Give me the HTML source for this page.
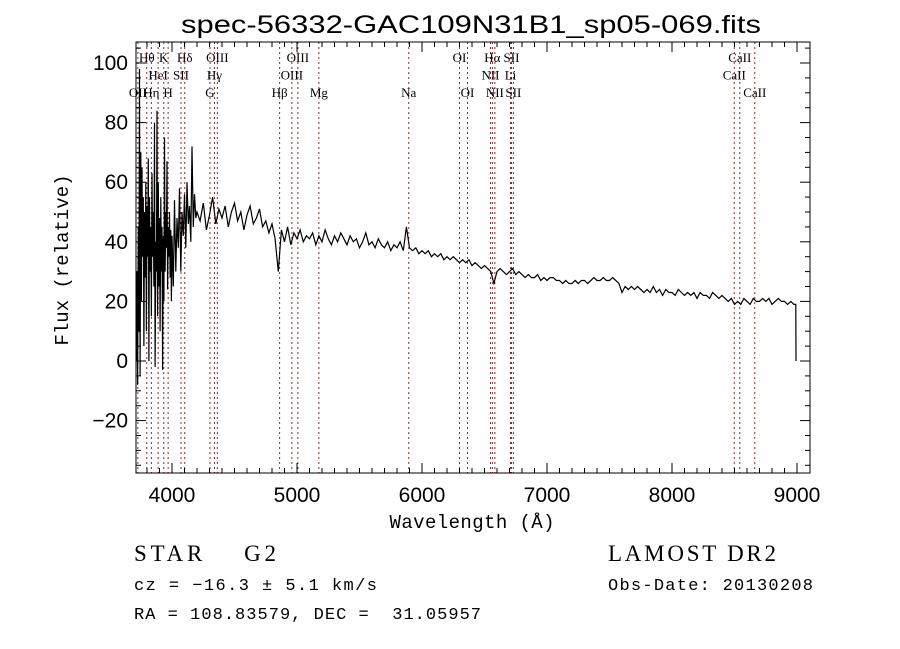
<!DOCTYPE html>
<html><head><meta charset="utf-8"><style>
body{margin:0;background:#fff;}
svg{display:block;font-family:"Liberation Sans",sans-serif;}
.ser{font-family:"Liberation Serif",serif;}
</style></head><body>
<svg id="chart" width="900" height="649" viewBox="0 0 900 649" xmlns="http://www.w3.org/2000/svg">
<rect width="900" height="649" fill="#fff"/>
<text x="471" y="33" font-size="25" text-anchor="middle" textLength="580" lengthAdjust="spacingAndGlyphs">spec-56332-GAC109N31B1_sp05-069.fits</text>
<g id="lines"></g>
<g id="labels" class="ser" font-size="13"></g>
<polyline id="spec" fill="none" stroke="#000" stroke-width="1.2"/>
<rect x="136" y="42" width="674" height="431" fill="none" stroke="#000" stroke-width="1"/>
<g id="ticks" stroke="#000"></g>
<g id="tlabels" font-size="21"></g>
<text x="472" y="528" font-size="19" text-anchor="middle" font-family="Liberation Mono,monospace" textLength="165">Wavelength (Å)</text>
<text transform="translate(68,260) rotate(-90)" font-size="19" text-anchor="middle" font-family="Liberation Mono,monospace">Flux (relative)</text>
<text x="134" y="561" font-size="23" class="ser" xml:space="preserve" textLength="142">STAR    G2</text>
<text x="134" y="590" font-size="17" font-family="Liberation Mono,monospace" textLength="243">cz = −16.3 ± 5.1 km/s</text>
<text x="134" y="619" font-size="17" font-family="Liberation Mono,monospace" xml:space="preserve" textLength="347">RA = 108.83579, DEC =  31.05957</text>
<text x="608" y="561" font-size="23" class="ser" textLength="168">LAMOST DR2</text>
<text x="608" y="590" font-size="17" font-family="Liberation Mono,monospace" textLength="205">Obs-Date: 20130208</text>
</svg>
<script>
const blueWave=[3715,3720,3725,3730,3735,3740,3745,3750,3755,3760,3765,3770,3775,3780,3785,3790,3795,3800,3805,3810,3815,3820,3825,3830,3835,3840,3845,3850,3855,3860,3865,3870,3875,3880,3885,3890,3895,3900,3905,3910,3915,3920,3925,3930,3935,3940,3945,3950,3955,3960,3965,3970,3975,3980,3985,3990,3995,4000,4010,4020,4030,4040,4050,4060,4070,4080,4090,4100,4110,4120,4130,4140,4150,4160,4170,4180,4190];
const blueFlux=[0,30,-8,45,10,98,-5,70,20,65,35,55,5,50,28,60,10,52,35,68,0,55,30,45,15,63,35,50,25,80,-2,40,30,84,15,60,25,48,10,55,30,45,-3,42,20,75,30,50,38,67,24,45,35,50,28,44,20,42,25,54,30,48,38,58,30,50,42,56,38,60,46,52,40,72,45,56,48];
const redStart=4200, redStep=25;
const redFlux=[50,47,53,44,49,55,46,51,48,52,45,50,
53,47,50,44,49,52,46,48,51,45,47,43,
46,41,30,44,40,45,39,43,41,44,40,42,
41,43,39,42,40,44,41,39,42,40,43,41,
39,42,40,41,38,40,43,39,40,38,41,39,
38,40,37,39,38,40,37,45,38,37,38,36,
37,36,37,35,36,35,36,34,35,34,35,34,
33,34,33,34,32,33,32,31,32,31,30,26,
30,31,30,29,30,31,29,30,29,28,29,28,
28,29,27,28,27,28,28,27,27,26,27,26,
26,27,26,27,27,26,27,28,27,27,28,27,
27,28,27,26,23,25,24,25,24,25,24,23,
24,23,25,23,24,22,24,23,23,22,24,23,
22,23,22,23,21,23,22,22,21,23,22,21,
22,21,20,21,19,20,19,21,20,19,21,20,
20,21,20,21,19,20,21,20,20,19,20,19];
const endWave=[8990,8992], endFlux=[19,0];
const lineWaves=[3727,3798,3835,3889,3934,3969,4072,4102,4304,4340,4363,4861,4959,5007,5175,5894,6300,6364,6548,6563,6583,6708,6716,6731,8498,8542,8662];
const labelText=["OII","Hθ","Hη","HeI","K","H","SII","Hδ","G","Hγ","OIII","Hβ","OIII","OIII","Mg","Na","OI","OI","NII","Hα","NII","Li","SII","SII","CaII","CaII","CaII"];
const labelRow=[2,0,2,1,0,2,1,0,2,1,0,2,1,0,2,2,0,2,1,0,2,1,0,2,1,0,2];
const xTicks=[4000,5000,6000,7000,8000,9000];
const yTicks=[-20,0,20,40,60,80,100];
const X=w=>172+(w-4000)*0.125;
const Y=f=>361-f*2.98;
const NS="http://www.w3.org/2000/svg";
function mk(t,a,p){const e=document.createElementNS(NS,t);for(const k in a)e.setAttribute(k,a[k]);p.appendChild(e);return e;}
const L=document.getElementById('lines'),LB=document.getElementById('labels');
lineWaves.forEach((w,i)=>{
 const ln=mk('line',{x1:X(w),x2:X(w),y1:42,y2:473,stroke:'#8b2a2a','stroke-width':1,'stroke-dasharray':'2,3'},L);
 
 
 const t=mk('text',{x:X(w),y:62+labelRow[i]*17.5,'text-anchor':'middle'},LB);
 t.textContent=labelText[i];
 
 
});
const pts=[];
blueWave.forEach((w,i)=>pts.push([w,blueFlux[i]]));
redFlux.forEach((f,i)=>pts.push([redStart+i*redStep,f]));
endWave.forEach((w,i)=>pts.push([w,endFlux[i]]));
document.getElementById('spec').setAttribute('points',pts.map(p=>X(p[0]).toFixed(1)+','+Math.min(473,Math.max(42,Y(p[1]))).toFixed(1)).join(' '));
const T=document.getElementById('ticks'),TL=document.getElementById('tlabels');
for(let w=3800;w<=9000;w+=100){const maj=w%1000===0;const h=maj?10:5;
 mk('line',{x1:X(w),x2:X(w),y1:473,y2:473-h},T);mk('line',{x1:X(w),x2:X(w),y1:42,y2:42+h},T);}
for(let f=-35;f<=105;f+=5){const maj=f%20===0;const h=maj?10:5;
 mk('line',{x1:136,x2:136+h,y1:Y(f),y2:Y(f)},T);mk('line',{x1:810,x2:810-h,y1:Y(f),y2:Y(f)},T);}
xTicks.forEach(v=>{const t=mk('text',{x:X(v),y:502,'text-anchor':'middle'},TL);t.textContent=v;
 
 });
yTicks.forEach(v=>{const t=mk('text',{x:128,y:Y(v)+7,'text-anchor':'end'},TL);t.textContent=v<0?'−'+(-v):v;
 
 });
</script>
</body></html>
